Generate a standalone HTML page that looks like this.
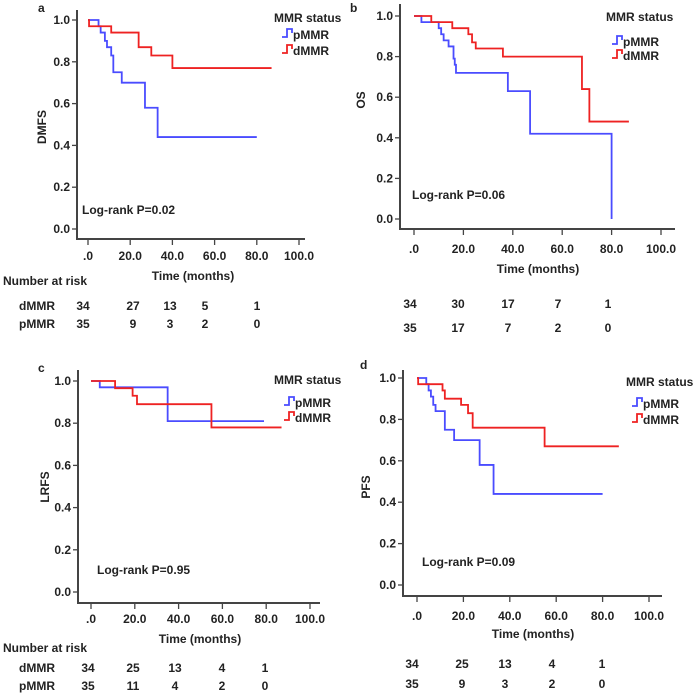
<!DOCTYPE html>
<html><head><meta charset="utf-8"><style>
body{margin:0;background:#fff;width:697px;height:694px;overflow:hidden}
svg{display:block}
text{font-family:"Liberation Sans",Arial,sans-serif;font-weight:bold;fill:#222;font-size:12px}
</style></head><body>
<svg id="chart" width="697" height="694" viewBox="0 0 697 694"></svg>
<script>
const yTicks=[0,0.2,0.4,0.6,0.8,1.0];
const yTickLabels=["0.0","0.2","0.4","0.6","0.8","1.0"];
const xTicks=[0,20,40,60,80,100];
const xTickLabels=[".0","20.0","40.0","60.0","80.0","100.0"];
const riskTimes=[0,20,40,60,80];
// panel a
const aP_t=[0,5,6,8,9,11,12,16,27,33,80];
const aP_s=[1,0.97,0.94,0.90,0.87,0.83,0.75,0.70,0.58,0.44,0.44];
const aD_t=[0,0.5,11,24,30,40,87];
const aD_s=[1,0.97,0.94,0.87,0.83,0.77,0.77];
const aRiskD=["34","27","13","5","1"];
const aRiskP=["35","9","3","2","0"];
// panel b
const bP_t=[0,3,10,11,12,14,16,16.5,17,38,47,80,80];
const bP_s=[1,0.97,0.94,0.91,0.88,0.85,0.79,0.76,0.72,0.63,0.42,0.0,0.0];
const bD_t=[0,7,15.5,22,23.5,25,36,68,71,87];
const bD_s=[1,0.97,0.94,0.91,0.87,0.84,0.80,0.64,0.48,0.48];
const bRiskD=["34","30","17","7","1"];
const bRiskP=["35","17","7","2","0"];
// panel c
const cP_t=[0,4,35,79];
const cP_s=[1,0.97,0.81,0.81];
const cD_t=[0,11,19,21,55,87];
const cD_s=[1,0.966,0.93,0.89,0.78,0.78];
const cRiskD=["34","25","13","4","1"];
const cRiskP=["35","11","4","2","0"];
// panel d
const dP_t=[0,4,5,6,7,8,12,16,27,33,80];
const dP_s=[1,0.97,0.94,0.91,0.87,0.84,0.75,0.70,0.58,0.44,0.44];
const dD_t=[0,0.5,11,12,19,22,24,55,87];
const dD_s=[1,0.97,0.94,0.90,0.87,0.83,0.76,0.67,0.67];
const dRiskD=["34","25","13","4","1"];
const dRiskP=["35","9","3","2","0"];

const NS="http://www.w3.org/2000/svg";
const svg=document.getElementById('chart');
function mk(tag,attrs,parent,txt){const e=document.createElementNS(NS,tag);for(const k in attrs)e.setAttribute(k,attrs[k]);if(txt!==undefined)e.textContent=txt;(parent||svg).appendChild(e);return e;}

const panels=[
 {id:'a',letter:'a',lx:38,ly:12,ylab:'DMFS',ylx:46,yly:127,ax:77,axTop:10,axEnd:305,x0:88,x100:299,y1:20,y0:229,base:239,
  tickY:260,titleY:280,titleX:193,logX:82,logY:214,logText:'Log-rank  P=0.02',
  legX:274,legY:22,pY:37,dY:53,iconX:282,nar:{x:3,y:285,text:'Number at risk'},rowLab:true,rowLabX:19,rowD:310,rowP:328,riskX:[83,133,170,205,257],
  P:[aP_t,aP_s],D:[aD_t,aD_s],RD:aRiskD,RP:aRiskP},
 {id:'b',letter:'b',lx:350,ly:12,ylab:'OS',ylx:365,yly:100,ax:400,axTop:4,axEnd:675,x0:414,x100:661,y1:16,y0:219,base:229,
  tickY:253,titleY:273,titleX:538,logX:412,logY:199,logText:'Log-rank P=0.06',
  legX:606,legY:21,pY:44,dY:58,iconX:612,nar:null,rowLab:false,rowD:308,rowP:332,riskX:[410,458,508,558,608],
  P:[bP_t,bP_s],D:[bD_t,bD_s],RD:bRiskD,RP:bRiskP},
 {id:'c',letter:'c',lx:38,ly:372,ylab:'LRFS',ylx:49,yly:487,ax:78,axTop:370,axEnd:320,x0:91,x100:310,y1:381,y0:592,base:603,
  tickY:623,titleY:643,titleX:200,logX:97,logY:574,logText:'Log-rank  P=0.95',
  legX:274,legY:384,pY:405,dY:420,iconX:284,nar:{x:3,y:652,text:'Number  at  risk'},rowLab:true,rowLabX:19,rowD:672,rowP:690,riskX:[88,133,175,222,265],
  P:[cP_t,cP_s],D:[cD_t,cD_s],RD:cRiskD,RP:cRiskP},
 {id:'d',letter:'d',lx:360,ly:369,ylab:'PFS',ylx:370,yly:487,ax:403,axTop:370,axEnd:662,x0:417,x100:649,y1:378,y0:585,base:596,
  tickY:620,titleY:638,titleX:533,logX:422,logY:566,logText:'Log-rank P=0.09',
  legX:626,legY:386,pY:406,dY:422,iconX:632,nar:null,rowLab:false,rowD:668,rowP:688,riskX:[412,462,505,552,602],
  P:[dP_t,dP_s],D:[dD_t,dD_s],RD:dRiskD,RP:dRiskP}
];

panels.forEach(p=>{
  const g=mk('g',{});
  
  
  const sx=t=>p.x0+(p.x100-p.x0)*t/100;
  const sy=v=>p.y0+(p.y1-p.y0)*v;
  const lt=mk('text',{x:p.lx,y:p.ly,'font-size':13},g,p.letter);
  
  
  const ya=mk('line',{x1:p.ax,y1:p.axTop,x2:p.ax,y2:p.base,stroke:'#444','stroke-width':2},g);
  
  
  const xa=mk('line',{x1:p.ax-1,y1:p.base,x2:p.axEnd,y2:p.base,stroke:'#444','stroke-width':2},g);
  
  
  yTicks.forEach((v,i)=>{
    mk('line',{x1:p.ax-5,y1:sy(v),x2:p.ax,y2:sy(v),stroke:'#444','stroke-width':1.3},g);
    const t=mk('text',{x:p.ax-7,y:sy(v)+4,'text-anchor':'end'},g,yTickLabels[i]);
    
    
  });
  xTicks.forEach((v,i)=>{
    mk('line',{x1:sx(v),y1:p.base,x2:sx(v),y2:p.base+6,stroke:'#444','stroke-width':1.3},g);
    const t=mk('text',{x:sx(v),y:p.tickY,'text-anchor':'middle'},g,xTickLabels[i]);
    
    
  });
  const xt=mk('text',{x:p.titleX,y:p.titleY,'text-anchor':'middle'},g,'Time (months)');
  
  
  const yt=mk('text',{x:p.ylx,y:p.yly,'text-anchor':'middle',transform:`rotate(-90 ${p.ylx} ${p.yly})`},g,p.ylab);
  
  
  const lr=mk('text',{x:p.logX,y:p.logY},g,p.logText);
  
  
  [[p.P,'#4a4cff','pmmr'],[p.D,'#ee2222','dmmr']].forEach(([d,col,nm])=>{
    const ts=d[0],ss=d[1];
    let path=`M${sx(ts[0])},${sy(ss[0])}`;
    for(let i=1;i<ts.length;i++){path+=` H${sx(ts[i])} V${sy(ss[i])}`;}
    const pe=mk('path',{d:path,fill:'none',stroke:col,'stroke-width':1.8},g);
    
    
  });
  const lg=mk('text',{x:p.legX,y:p.legY},g,'MMR status');
  
  
  [[p.pY,'#4a4cff','pMMR'],[p.dY,'#ee2222','dMMR']].forEach(([y,col,lab])=>{
    const ix=p.iconX;
    const ic=mk('path',{d:`M${ix},${y} H${ix+5} V${y-8} H${ix+10} V${y-4}`,fill:'none',stroke:col,'stroke-width':1.8},g);
    
    
    const lt2=mk('text',{x:ix+11,y:y+2},g,lab);
    
    
  });
  if(p.nar){
    const n=mk('text',{x:p.nar.x,y:p.nar.y},g,p.nar.text);
    
    
  }
  if(p.rowLab){
    const a=mk('text',{x:p.rowLabX,y:p.rowD},g,'dMMR');
    
    
    const b=mk('text',{x:p.rowLabX,y:p.rowP},g,'pMMR');
    
    
  }
  riskTimes.forEach((t,i)=>{
    const a=mk('text',{x:p.riskX[i],y:p.rowD,'text-anchor':'middle'},g,p.RD[i]);
    
    
    const b=mk('text',{x:p.riskX[i],y:p.rowP,'text-anchor':'middle'},g,p.RP[i]);
    
    
  });
});
</script>
</body></html>
